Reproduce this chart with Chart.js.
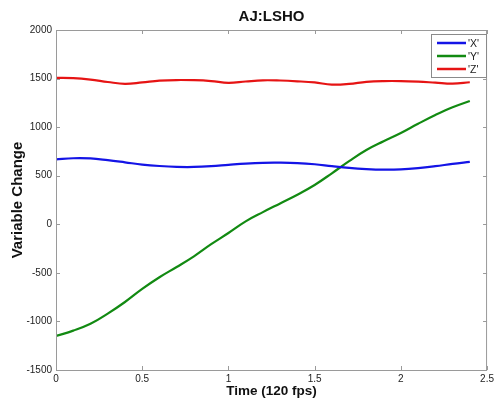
<!DOCTYPE html>
<html>
<head>
<meta charset="utf-8">
<script src="https://cdn.jsdelivr.net/npm/chart.js@4"></script>
<style>
  body { margin: 0; background: #fff; }
  #wrap { width: 497px; height: 406px; }
</style>
</head>
<body>
<div id="wrap"><canvas id="myChart" width="497" height="406"></canvas></div>
<script>
// time samples (s) and the three marker coordinates
const times = [0, 0.1, 0.2, 0.3, 0.4, 0.5, 0.6, 0.7, 0.8, 0.9, 1.0, 1.1, 1.2,
  1.3, 1.4, 1.5, 1.6, 1.7, 1.8, 1.9, 2.0, 2.1, 2.2, 2.3, 2.4];
const xVals = [669, 680, 678, 660, 638, 615, 600, 591, 590, 598, 612, 625, 633,
  634, 630, 618, 598, 580, 568, 562, 565, 578, 598, 622, 643];
const yVals = [-1150, -1095, -1025, -920, -800, -665, -545, -440, -330, -205, -90, 30, 125,
  215, 305, 405, 525, 650, 765, 855, 940, 1035, 1125, 1205, 1270];
const zVals = [1508, 1505, 1490, 1465, 1445, 1460, 1478, 1485, 1483, 1474, 1456, 1470, 1482,
  1480, 1472, 1460, 1438, 1445, 1466, 1474, 1474, 1468, 1458, 1448, 1462];
const seriesLabels = ["'X'", "'Y'", "'Z'"];
const xTickLabels = ['0', '0.5', '1', '1.5', '2', '2.5'];
const yTickLabels = ['-1500', '-1000', '-500', '0', '500', '1000', '1500', '2000'];

const FONT = "'Liberation Sans', Arial, sans-serif";
const colors = ['#1414e6', '#128a12', '#e61414'];

function toPoints(vals) {
  return vals.map((v, i) => ({ x: times[i], y: v }));
}

// box, inward ticks, title and legend, matlab style
const matlabFrame = {
  id: 'matlabFrame',
  afterDraw(chart) {
    const ctx = chart.ctx;
    const a = chart.chartArea;
    const xs = chart.scales.x;
    const ys = chart.scales.y;
    ctx.save();
    ctx.strokeStyle = '#9a9a9a';
    ctx.lineWidth = 1;
    ctx.strokeRect(a.left + 0.5, a.top + 0.5, a.right - a.left - 1, a.bottom - a.top);
    ctx.beginPath();
    xTickLabels.forEach(t => {
      const px = Math.round(xs.getPixelForValue(parseFloat(t))) + 0.5;
      ctx.moveTo(px, a.bottom); ctx.lineTo(px, a.bottom - 4);
      ctx.moveTo(px, a.top); ctx.lineTo(px, a.top + 4);
    });
    yTickLabels.forEach(t => {
      const py = Math.round(ys.getPixelForValue(parseFloat(t))) + 0.5;
      ctx.moveTo(a.left, py); ctx.lineTo(a.left + 4, py);
      ctx.moveTo(a.right, py); ctx.lineTo(a.right - 4, py);
    });
    ctx.stroke();

    // title
    ctx.fillStyle = '#111';
    ctx.font = 'bold 15px ' + FONT;
    ctx.textAlign = 'center';
    ctx.textBaseline = 'middle';
    ctx.fillText('AJ:LSHO', (a.left + a.right) / 2, 17);

    // legend
    const bx = 431.5, by = 34.5, bw = 55, bh = 43;
    ctx.fillStyle = '#fff';
    ctx.fillRect(bx, by, bw, bh);
    ctx.strokeStyle = '#8a8a8a';
    ctx.strokeRect(bx, by, bw, bh);
    ctx.font = '10.5px ' + FONT;
    ctx.textAlign = 'left';
    chart.data.datasets.forEach((ds, i) => {
      const ly = 43 + 13 * i;
      ctx.strokeStyle = ds.borderColor;
      ctx.lineWidth = 2.5;
      ctx.beginPath();
      ctx.moveTo(437, ly); ctx.lineTo(466, ly);
      ctx.stroke();
      ctx.fillStyle = '#222';
      ctx.fillText(ds.label, 468, ly + 1);
    });
    ctx.restore();
  }
};

const ctx = document.getElementById('myChart').getContext('2d');
const myChart = new Chart(ctx, {
  type: 'line',
  data: {
    datasets: [xVals, yVals, zVals].map((vals, i) => ({
      label: seriesLabels[i],
      data: toPoints(vals),
      borderColor: colors[i],
      borderWidth: 2.2,
      pointRadius: 0,
      tension: 0.4,
      fill: false
    }))
  },
  options: {
    responsive: false,
    animation: false,
    layout: { padding: { top: 30, right: 9, left: 0, bottom: 0 } },
    plugins: {
      legend: { display: false },
      title: { display: false },
      tooltip: { enabled: false }
    },
    scales: {
      x: {
        type: 'linear',
        min: 0,
        max: 2.5,
        afterFit: (scale) => { scale.height = 36; },
        afterBuildTicks: (scale) => {
          scale.ticks = xTickLabels.map(t => ({ value: parseFloat(t) }));
        },
        ticks: {
          callback: (v) => String(v),
          font: { family: FONT, size: 10 },
          color: '#222',
          padding: 3,
          maxRotation: 0,
          autoSkip: false
        },
        grid: { display: false, drawTicks: false },
        border: { display: false },
        title: {
          display: true,
          text: 'Time (120 fps)',
          font: { family: FONT, size: 13.5, weight: 'bold' },
          color: '#111',
          padding: { top: 7, bottom: 7 }
        }
      },
      y: {
        min: -1500,
        max: 2000,
        afterFit: (scale) => { scale.width = 56; },
        afterBuildTicks: (scale) => {
          scale.ticks = yTickLabels.map(t => ({ value: parseFloat(t) }));
        },
        ticks: {
          callback: (v) => String(v),
          font: { family: FONT, size: 10 },
          color: '#222',
          padding: 4,
          autoSkip: false
        },
        grid: { display: false, drawTicks: false },
        border: { display: false },
        title: {
          display: true,
          text: 'Variable Change',
          font: { family: FONT, size: 15, weight: 'bold' },
          color: '#111',
          padding: { top: 9, bottom: 9 }
        }
      }
    }
  },
  plugins: [matlabFrame]
});
</script>
</body>
</html>
